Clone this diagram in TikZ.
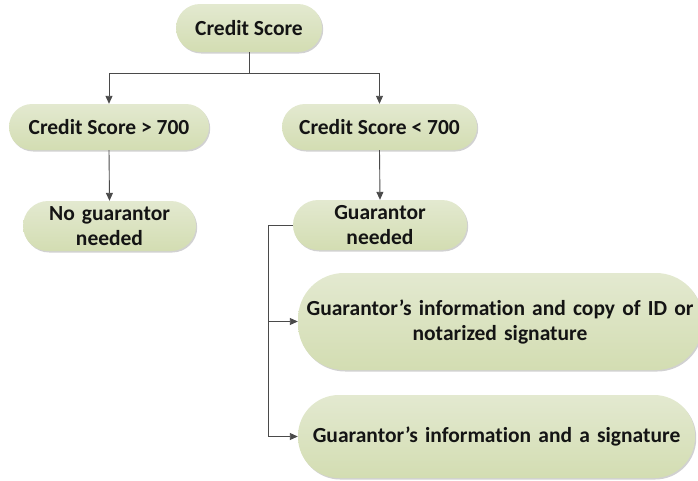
\documentclass[tikz,border=0pt]{standalone}
\usepackage{fontspec}
\setmainfont{Carlito}[Ligatures=NoCommon]
\usetikzlibrary{arrows.meta,shadows}
\definecolor{boxtop}{HTML}{E3E9D0}
\definecolor{boxbot}{HTML}{D3DDB2}
\definecolor{linec}{HTML}{4A4A4A}
\definecolor{txt}{HTML}{141414}
\tikzset{
  box/.style={rectangle, top color=boxtop, bottom color=boxbot, draw=none,
    font=\fontsize{21.5}{25}\selectfont\bfseries, text=txt, align=center,
    inner sep=0pt,
    drop shadow={shadow xshift=1.2pt, shadow yshift=-1.5pt, opacity=0.18, fill=black}},
  conn/.style={draw=linec, line width=0.9pt},
  arr/.style={conn, -{Triangle[length=8pt,width=7pt]}}
}
\begin{document}
\begin{tikzpicture}[x=1pt,y=-1pt]
\useasboundingbox (0,0) rectangle (698,480);
\node[box, minimum width=146, minimum height=48, rounded corners=24] (cs) at (249,28) {Credit Score};
\node[box, minimum width=200, minimum height=46, rounded corners=23] (hi) at (109,127) {Credit Score > 700};
\node[box, minimum width=195, minimum height=46, rounded corners=23] (lo) at (379.5,127) {Credit Score < 700};
\node[box, minimum width=173, minimum height=50, rounded corners=25, text width=170] (no) at (109.5,226) {No guarantor\\ needed};
\node[box, minimum width=174, minimum height=50, rounded corners=25, text width=170] (gn) at (380,225) {Guarantor\\ needed};
\node[box, minimum width=404, minimum height=97, rounded corners=46, text width=400] (b1) at (500,321.5) {Guarantor’s information and copy of ID or\\ notarized signature};
\node[box, minimum width=397, minimum height=83, rounded corners=41, text width=395] (b2) at (496.5,436.5) {Guarantor’s information and a signature};
\coordinate (j) at (249,73);
\coordinate (k) at (268,225);
\draw[arr] (cs.south) -- (j) -| (hi.north);
\draw[arr] (j) -| (lo.north);
\draw[arr] (hi.south) -- (no.north);
\draw[arr] (lo.south) -- (gn.north);
\draw[arr] (gn.west) -- (k) |- (b2.west);
\draw[arr] (k |- b1.west) -- (b1.west);
\end{tikzpicture}
\end{document}
